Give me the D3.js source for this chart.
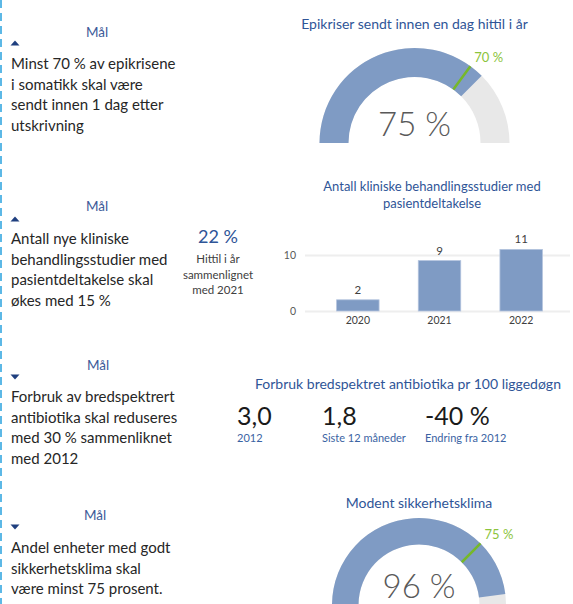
<!DOCTYPE html>
<html>
    <head>
        <meta charset="utf-8">
        <script src="https://d3js.org/d3.v7.min.js"></script>
        <style>
            body { margin: 0; background: #fff; }
            text { font-family: Lato, "Open Sans", sans-serif; }
        </style>
    </head>
    <body>
        <svg class="chart"></svg>
    </body>
    <script>
        var svgWidth = 573, svgHeight = 604;

        // left column: goals
        var goalTexts = [
            ["Minst 70 % av epikrisene", "i somatikk skal være", "sendt innen 1 dag etter", "utskrivning"],
            ["Antall nye kliniske", "behandlingsstudier med", "pasientdeltakelse skal", "økes med 15 %"],
            ["Forbruk av bredspektrert", "antibiotika skal reduseres", "med 30 % sammenliknet", "med 2012"],
            ["Andel enheter med godt", "sikkerhetsklima skal", "være minst 75 prosent."]
        ];
        var goalDirections = ["up", "up", "down", "down"];

        // gauges
        var gaugeTitles = ["Epikriser sendt innen en dag hittil i år", "Modent sikkerhetsklima"];
        var gaugeValues = [75, 96];
        var gaugeTargets = [70, 75];

        // clinical studies
        var studyTitle = ["Antall kliniske behandlingsstudier med", "pasientdeltakelse"];
        var studyYears = ["2020", "2021", "2022"];
        var studyCounts = [2, 9, 11];
        var studyTicks = [0, 10];
        var growthValue = "22 %";
        var growthCaption = ["Hittil i år", "sammenlignet", "med 2021"];

        // antibiotics
        var abTitle = "Forbruk bredspektret antibiotika pr 100 liggedøgn";
        var abValues = ["3,0", "1,8", "-40 %"];
        var abLabels = ["2012", "Siste 12 måneder", "Endring fra 2012"];

        var blue = "#7f9bc4", grey = "#e8e8e8", green = "#76b82a",
            titleBlue = "#2f5597", textDark = "#262626";

        var svg = d3.select(".chart")
                    .attr("width", svgWidth)
                    .attr("height", svgHeight);

        // dashed left border
        svg.append("line")
            .attr("x1", 1).attr("x2", 1)
            .attr("y1", 0).attr("y2", svgHeight)
            .attr("stroke", "#5cb8e6")
            .attr("stroke-width", 2)
            .attr("stroke-dasharray", "8,5");

        // goal blocks
        var goalLayout = [
            {malX: 97, malY: 37, triY: 43, lineY: 69},
            {malX: 97, malY: 211, triY: 219, lineY: 244},
            {malX: 98, malY: 370, triY: 377, lineY: 402},
            {malX: 95, malY: 520, triY: 527, lineY: 553}
        ];
        goalTexts.forEach(function (lines, i) {
            var L = goalLayout[i];
            svg.append("text")
                .attr("x", L.malX).attr("y", L.malY)
                .attr("text-anchor", "middle")
                .attr("font-size", 13.5)
                .attr("fill", "#3b5a99")
                .text("Mål");
            // flat marker triangle
            svg.append("path")
                .attr("d", "M-4.5,2.5L4.5,2.5L0,-2.5Z")
                .attr("transform", "translate(15," + L.triY + ")" + (goalDirections[i] === "down" ? " rotate(180)" : ""))
                .attr("fill", "#1f3f7f");
            svg.append("g").selectAll("text")
                .data(lines).enter().append("text")
                    .attr("x", 11)
                    .attr("y", (d, j) => L.lineY + j * 20.7)
                    .attr("font-size", 15)
                    .attr("fill", textDark)
                    .text(d => d);
        });

        // gauges
        var gaugeLayout = [
            {cx: 414.5, cy: 143, r: 95, titleY: 29, valueY: 136},
            {cx: 419, cy: 605, r: 87, titleY: 508, valueY: 598}
        ];
        var angle = d3.scaleLinear().domain([0, 100]).range([-Math.PI / 2, Math.PI / 2]);

        gaugeValues.forEach(function (v, i) {
            var G = gaugeLayout[i], inner = G.r * 0.695;
            svg.append("text")
                .attr("x", G.cx).attr("y", G.titleY)
                .attr("text-anchor", "middle")
                .attr("font-size", 14)
                .attr("fill", titleBlue)
                .text(gaugeTitles[i]);

            var g = svg.append("g").attr("transform", "translate(" + G.cx + "," + G.cy + ")");
            var arc = d3.arc().innerRadius(inner).outerRadius(G.r);
            g.append("path")
                .attr("d", arc({startAngle: angle(0), endAngle: angle(100)}))
                .attr("fill", grey);
            g.append("path")
                .attr("d", arc({startAngle: angle(0), endAngle: angle(v)}))
                .attr("fill", blue);

            var a = angle(gaugeTargets[i]);
            g.append("line")
                .attr("x1", inner * Math.sin(a)).attr("y1", -inner * Math.cos(a))
                .attr("x2", G.r * Math.sin(a)).attr("y2", -G.r * Math.cos(a))
                .attr("stroke", green)
                .attr("stroke-width", 2.5);
            g.append("text")
                .attr("x", G.r * Math.sin(a) + 4)
                .attr("y", -G.r * Math.cos(a) - 4)
                .attr("font-size", 13)
                .attr("fill", "#8cc43c")
                .text(gaugeTargets[i] + " %");

            svg.append("text")
                .attr("x", G.cx).attr("y", G.valueY)
                .attr("text-anchor", "middle")
                .attr("font-size", 33)
                .attr("font-weight", 300)
                .attr("fill", "#595959")
                .text(v + " %");
        });

        // growth figure
        svg.append("text")
            .attr("x", 218).attr("y", 243)
            .attr("text-anchor", "middle")
            .attr("font-size", 18)
            .attr("fill", titleBlue)
            .text(growthValue);
        svg.append("g").selectAll("text")
            .data(growthCaption).enter().append("text")
                .attr("x", 218)
                .attr("y", (d, j) => 263 + j * 15.5)
                .attr("text-anchor", "middle")
                .attr("font-size", 11.5)
                .attr("fill", "#404040")
                .text(d => d);

        // studies bar chart
        svg.append("g").selectAll("text")
            .data(studyTitle).enter().append("text")
                .attr("x", 432)
                .attr("y", (d, j) => 191 + j * 16.5)
                .attr("text-anchor", "middle")
                .attr("font-size", 13)
                .attr("fill", titleBlue)
                .text(d => d);

        var xScale = d3.scaleBand().domain(studyYears).range([317, 562]).paddingInner(0.48).paddingOuter(0.24),
            yScale = d3.scaleLinear().domain([0, 10]).range([311, 255]);

        var yAxis = svg.append("g")
            .attr("transform", "translate(305,0)")
            .call(d3.axisLeft(yScale).tickValues(studyTicks).tickSize(-265).tickPadding(9));
        yAxis.select(".domain").remove();
        yAxis.selectAll("line").attr("stroke", "#eeeeee").attr("stroke-width", 2);
        yAxis.selectAll("text").attr("fill", "#595959").attr("font-size", 10.5)
            .style("font-family", "Lato, sans-serif");

        var xAxis = svg.append("g")
            .attr("transform", "translate(0,311)")
            .call(d3.axisBottom(xScale).tickSize(0).tickPadding(6));
        xAxis.select(".domain").remove();
        xAxis.selectAll("text").attr("fill", "#404040").attr("font-size", 10.5)
            .style("font-family", "Lato, sans-serif");

        var studies = studyYears.map((y, i) => ({year: y, count: studyCounts[i]}));
        svg.selectAll(".bar")
            .data(studies).enter().append("rect")
                .attr("class", "bar")
                .attr("x", d => xScale(d.year))
                .attr("y", d => yScale(d.count))
                .attr("width", xScale.bandwidth())
                .attr("height", d => yScale(0) - yScale(d.count))
                .attr("fill", blue)
                .attr("stroke", "#b3c4de")
                .attr("stroke-width", 0.8);
        svg.selectAll(".bar-label")
            .data(studies).enter().append("text")
                .attr("class", "bar-label")
                .attr("x", d => xScale(d.year) + xScale.bandwidth() / 2)
                .attr("y", d => yScale(d.count) - 6)
                .attr("text-anchor", "middle")
                .attr("font-size", 11.5)
                .attr("fill", "#404040")
                .text(d => d.count);

        // antibiotics figures
        svg.append("text")
            .attr("x", 408).attr("y", 389)
            .attr("text-anchor", "middle")
            .attr("font-size", 14)
            .attr("fill", titleBlue)
            .text(abTitle);
        var abX = [237, 322, 425];
        abValues.forEach(function (v, i) {
            svg.append("text")
                .attr("x", abX[i]).attr("y", 425)
                .attr("font-size", 25)
                .attr("fill", "#1a1a1a")
                .text(v);
            svg.append("text")
                .attr("x", abX[i]).attr("y", 442)
                .attr("font-size", 11)
                .attr("fill", "#3b63a3")
                .text(abLabels[i]);
        });
    </script>
</html>
